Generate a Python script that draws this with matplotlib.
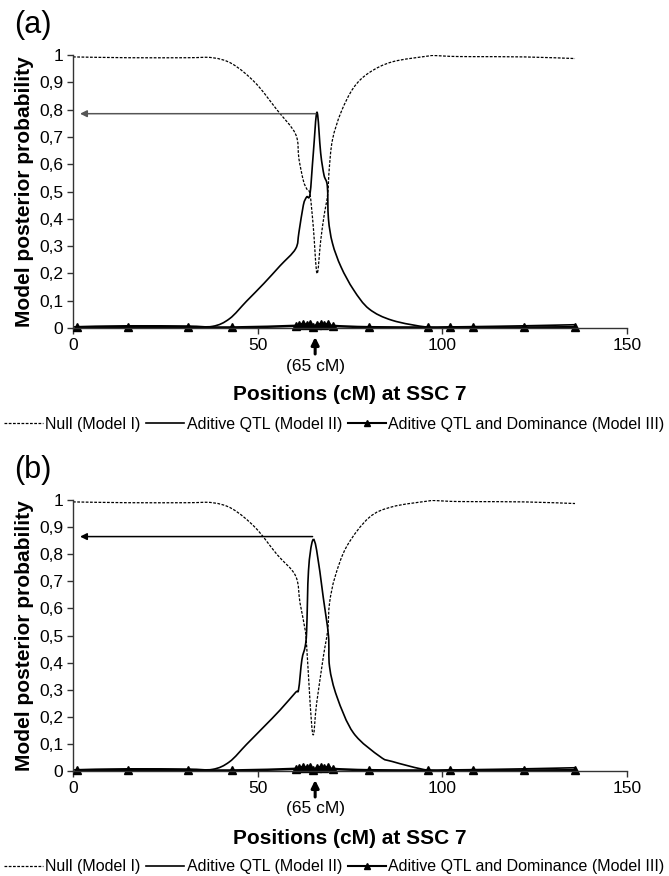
import matplotlib
matplotlib.use('Agg')
import numpy as np
import matplotlib.pyplot as plt
from matplotlib.lines import Line2D
from matplotlib.path import Path
from matplotlib.patches import PathPatch

plt.rcParams['font.family'] = ['Liberation Sans', 'DejaVu Sans']

# Model III positions (markers) - shared by both panels
pos_m3 = [1.0, 15.0, 31.2, 43.2, 60.3, 61.2, 62.4, 63.3, 64.2, 65.1, 66.2, 67.1,
          68.0, 69.2, 70.3, 80.2, 96.1, 102.2, 108.3, 122.2, 136.0]
m3_a = [0.003, 0.004, 0.003, 0.002, 0.008, 0.012, 0.014, 0.012, 0.014, 0.004, 0.012,
        0.014, 0.012, 0.014, 0.008, 0.003, 0.002, 0.002, 0.002, 0.002, 0.003]
m3_b = [0.003, 0.004, 0.003, 0.002, 0.008, 0.012, 0.014, 0.012, 0.014, 0.002, 0.012,
        0.014, 0.012, 0.014, 0.008, 0.003, 0.002, 0.002, 0.002, 0.002, 0.003]

# panel (a)
null_x_a = [0, 15, 31, 37.8, 43.2, 49.4, 55.2, 60.3, 61.2, 62.4, 63.3, 64.2, 65.1,
            66.1, 67.1, 68.0, 69.0, 69.4, 70.3, 72.6, 76, 80.2, 86.5, 96.1, 98,
            102.2, 108.3, 122.2, 136]
null_y_a = [0.993, 0.99, 0.99, 0.99, 0.967, 0.898, 0.80, 0.71, 0.62, 0.54, 0.51, 0.49,
            0.37, 0.20, 0.32, 0.41, 0.49, 0.58, 0.69, 0.79, 0.88, 0.935, 0.975, 0.996,
            0.998, 0.995, 0.994, 0.993, 0.987]
m2_x_a = [0, 15, 31, 37.8, 42.4, 47, 51.7, 56.1, 60.3, 61.2, 62.4, 63.3, 64.2,
          65.1, 66.1, 67.1, 68.0, 68.9, 69.2, 70.3, 72.6, 76, 80.2, 86.5, 96.1,
          102.2, 108.3, 122.2, 136]
m2_y_a = [0.004, 0.008, 0.007, 0.006, 0.034, 0.098, 0.163, 0.228, 0.29, 0.35,
          0.45, 0.48, 0.49, 0.64, 0.79, 0.64, 0.56, 0.52, 0.40, 0.31, 0.224, 0.14,
          0.07, 0.028, 0.003, 0.004, 0.005, 0.008, 0.012]

# panel (b)
null_x_b = [0, 15, 31, 37.8, 43.2, 49.4, 55.2, 60.3, 61.5, 62.9, 63.3, 64.9, 66.0,
            67.8, 69.0, 69.5, 71, 74.2, 80.2, 86.5, 96.1, 98, 102.2, 108.3, 122.2, 136]
null_y_b = [0.993, 0.99, 0.99, 0.99, 0.967, 0.898, 0.80, 0.72, 0.62, 0.52, 0.46, 0.14,
            0.25, 0.42, 0.52, 0.62, 0.717, 0.83, 0.935, 0.975, 0.996, 0.998, 0.995,
            0.994, 0.993, 0.987]
m2_x_b = [0, 15, 31, 37.8, 42.4, 47, 51.7, 56.1, 60.3, 61.1, 62.0, 62.9, 63.3,
          63.8, 64.9, 66.0, 67.8, 69.2, 69.5, 71.5, 76, 83.2, 86.5, 96.1, 102.2,
          108.3, 122.2, 136]
m2_y_b = [0.004, 0.008, 0.007, 0.006, 0.034, 0.098, 0.163, 0.225, 0.29, 0.30,
          0.41, 0.46, 0.52, 0.74, 0.85, 0.815, 0.64, 0.50, 0.385, 0.274, 0.14, 0.053,
          0.035, 0.003, 0.004, 0.005, 0.008, 0.012]

yticks = [0, 0.1, 0.2, 0.3, 0.4, 0.5, 0.6, 0.7, 0.8, 0.9, 1]
yticklabels = ['0', '0,1', '0,2', '0,3', '0,4', '0,5', '0,6', '0,7', '0,8', '0,9', '1']
xticks = [0, 50, 100, 150]

NULL_LS = (0, (2.2, 1.2))

fig = plt.figure(figsize=(6.69, 8.76), dpi=100)
W, H = 669.0, 876.0


def smooth_line(ax, xs, ys, **kw):
    # Excel-style smoothed line: Catmull-Rom segments drawn as cubic Beziers
    p = np.column_stack([xs, ys]).astype(float)
    n = len(p)
    verts = [p[0]]
    codes = [Path.MOVETO]
    for i in range(n - 1):
        p0 = p[i - 1] if i > 0 else p[i]
        p3 = p[i + 2] if i + 2 < n else p[i + 1]
        c1 = p[i] + (p[i + 1] - p0) / 6.0
        c2 = p[i + 1] - (p3 - p[i]) / 6.0
        verts += [c1, c2, p[i + 1]]
        codes += [Path.CURVE4] * 3
    ax.add_patch(PathPatch(Path(verts, codes), fill=False, capstyle='butt', **kw))


def draw_panel(top_px, bot_px, null_x, null_y, m2_x, m2_y, m3_y, peak, tag, arrow_col):
    ax = fig.add_axes([73 / W, 1 - bot_px / H, (626.7 - 73) / W, (bot_px - top_px) / H])
    smooth_line(ax, null_x, null_y, edgecolor='black', lw=0.9, linestyle=NULL_LS)
    smooth_line(ax, m2_x, m2_y, edgecolor='black', lw=1.2)
    smooth_line(ax, pos_m3, m3_y, edgecolor='black', lw=1.8)
    ax.plot(pos_m3, m3_y, ls='none', marker='^', ms=5.5, color='black', clip_on=False)
    ax.set_xlim(0, 150)
    ax.set_ylim(0, 1)
    ax.set_xticks(xticks)
    ax.set_yticks(yticks)
    ax.set_yticklabels(yticklabels)
    ax.tick_params(axis='both', labelsize=12.5, length=4, width=1, pad=3, color='#333333')
    for s in ['top', 'right']:
        ax.spines[s].set_visible(False)
    for s in ['left', 'bottom']:
        ax.spines[s].set_linewidth(1)
        ax.spines[s].set_color('#333333')

    # arrow from peak to the y axis
    ax.annotate('', xy=(1.9, peak[1]), xytext=peak,
                arrowprops=dict(arrowstyle='-|>', lw=1.1, color=arrow_col,
                                mutation_scale=10, shrinkA=0, shrinkB=0))

    # arrow under the axis at 65 cM
    h = bot_px - top_px
    ax.annotate('', xy=(65.6, -9 / h), xycoords=('data', 'axes fraction'),
                xytext=(65.6, -26 / h), textcoords=('data', 'axes fraction'),
                arrowprops=dict(arrowstyle='-|>', lw=2.2, color='black',
                                mutation_scale=11, shrinkA=0, shrinkB=0),
                annotation_clip=False)
    ax.text(65.6, -38 / h, '(65 cM)', transform=ax.get_xaxis_transform(),
            ha='center', va='center', fontsize=12.5)

    fig.text(25 / W, 1 - (top_px + bot_px) / 2 / H, 'Model posterior probability',
             rotation=90, ha='center', va='center', fontsize=15, fontweight='bold')
    fig.text(350 / W, 1 - (bot_px + 67) / H, 'Positions (cM) at SSC 7',
             ha='center', va='center', fontsize=15, fontweight='bold')
    fig.text(33 / W, 1 - (top_px - 30) / H, tag, ha='center', va='center', fontsize=22)

    handles = [
        Line2D([], [], color='black', lw=0.9, ls=NULL_LS),
        Line2D([], [], color='black', lw=1.2),
        Line2D([], [], color='black', lw=1.5, marker='^', ms=5),
    ]
    labels = ['Null (Model I)', 'Aditive QTL (Model II)',
              'Aditive QTL and Dominance (Model III)']
    fig.legend(handles, labels, loc='center', bbox_to_anchor=(0.5, 1 - (bot_px + 96) / H),
               ncol=3, frameon=False, fontsize=11.5, handlelength=2.4,
               handletextpad=0.15, columnspacing=0.35, borderaxespad=0, borderpad=0)
    return ax


draw_panel(55, 328, null_x_a, null_y_a, m2_x_a, m2_y_a, m3_a, (65.8, 0.785), '(a)', '#555555')
draw_panel(500, 771, null_x_b, null_y_b, m2_x_b, m2_y_b, m3_b, (64.9, 0.865), '(b)', 'black')

fig.savefig('out.png', dpi=100)
